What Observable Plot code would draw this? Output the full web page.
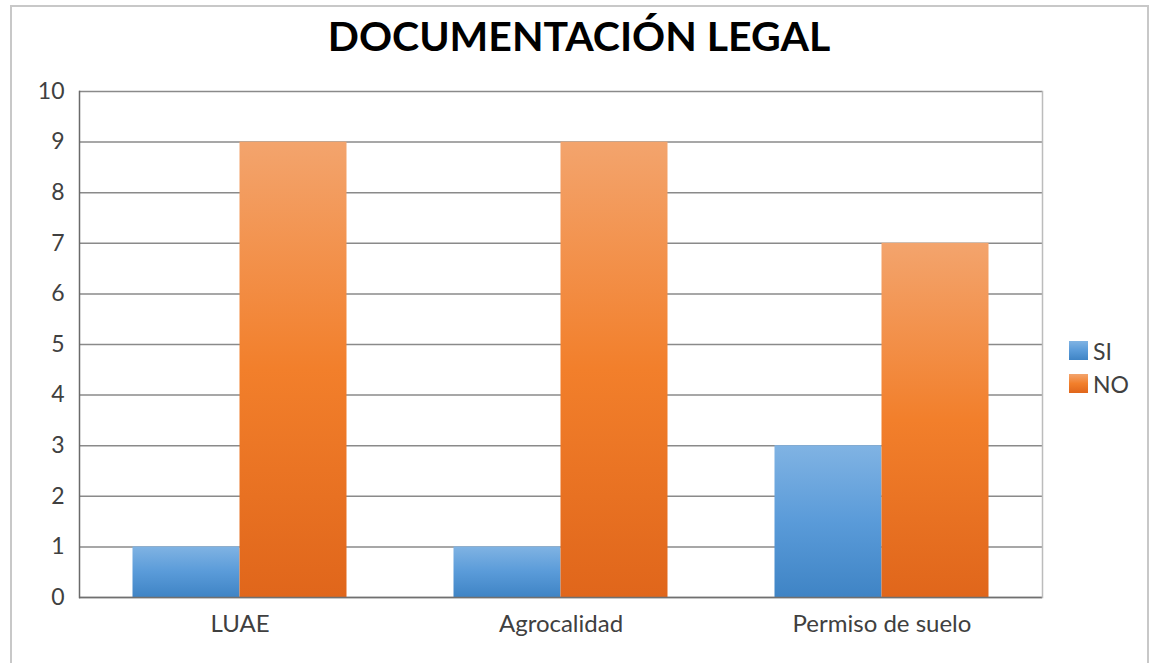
<!DOCTYPE html>
<html><head><meta charset="utf-8">
<script src="https://cdn.jsdelivr.net/npm/d3@7"></script>
<script src="https://cdn.jsdelivr.net/npm/@observablehq/plot@0.6"></script>
<style>
body{margin:0;background:#fff;}
#wrap{position:relative;width:1158px;height:663px;overflow:hidden;font-family:Lato,sans-serif;}
#border{position:absolute;left:10px;top:5px;width:1139px;height:700px;border:2px solid #c8c8c8;box-sizing:border-box;}
#title{position:absolute;left:0;width:1158px;top:15px;line-height:1;text-align:center;font-weight:700;font-size:41px;color:#000;white-space:nowrap;}
#legend{position:absolute;left:1069px;top:334px;font-size:23px;color:#404040;}
.item{display:flex;align-items:center;height:33px;}
.sw{width:19px;height:19px;margin-right:5px;}
#chart{position:absolute;left:0;top:0;}
</style></head>
<body>
<div id="wrap">
  <div id="border"></div>
  <div id="chart"></div>
  <div id="title"></div>
  <div id="legend"></div>
</div>
<script>
const title = "DOCUMENTACIÓN LEGAL";
const categories = ["LUAE", "Agrocalidad", "Permiso de suelo"];
const series = ["SI", "NO"];
const siValues = [1, 1, 3];
const noValues = [9, 9, 7];
const yTicks = [0, 1, 2, 3, 4, 5, 6, 7, 8, 9, 10];
const gradients = {
  SI: ["#80b3e3", "#5a9bd9", "#3f84c5"],
  NO: ["#f3a46d", "#f27f2b", "#e0661b"]
};

const data = categories.flatMap((c, i) => [
  {category: c, series: "SI", value: siValues[i]},
  {category: c, series: "NO", value: noValues[i]}
]);

document.getElementById("title").textContent = title;

const chart = Plot.plot({
  width: 1158, height: 663,
  marginLeft: 78, marginRight: 115, marginTop: 91, marginBottom: 66,
  style: {fontFamily: "Lato, sans-serif", fontSize: "24px", color: "#404040", background: "transparent", overflow: "visible"},
  fx: {domain: categories, padding: 0, axis: null, label: null},
  x: {domain: series, paddingInner: 0, paddingOuter: 0.5, axis: null, round: false, label: null},
  y: {domain: [0, 10], axis: null, label: null},
  color: {domain: series, range: series.map(s => `url(#g${s})`)},
  marks: [
    Plot.ruleY(yTicks, {y: d => d, stroke: "#8a8a8a", strokeWidth: 1.5}),
    Plot.barY(data, {fx: "category", x: "series", y: "value", fill: "series"}),
    Plot.ruleY([0], {stroke: "#707070", strokeWidth: 1.5}),
    Plot.frame({anchor: "left", facetAnchor: "left", stroke: "#6a6a6a", strokeWidth: 1.5}),
    Plot.frame({anchor: "right", facetAnchor: "right", stroke: "#bcbcbc", strokeWidth: 1.5}),
    Plot.axisY(yTicks, {anchor: "left", tickSize: 0, tickPadding: 15, fontSize: 23, fill: "#404040", label: null, tickFormat: d => String(d)}),
    Plot.axisFx({anchor: "bottom", tickSize: 0, tickPadding: 17, fontSize: 24, fill: "#404040", label: null})
  ]
});
document.getElementById("chart").appendChild(chart);

const svgNS = "http://www.w3.org/2000/svg";
const defs = document.createElementNS(svgNS, "defs");
for (const s of series) {
  const g = document.createElementNS(svgNS, "linearGradient");
  g.setAttribute("id", "g" + s);
  g.setAttribute("x1", "0"); g.setAttribute("y1", "0");
  g.setAttribute("x2", "0"); g.setAttribute("y2", "1");
  gradients[s].forEach((c, i) => {
    const st = document.createElementNS(svgNS, "stop");
    st.setAttribute("offset", (i * 50) + "%");
    st.setAttribute("stop-color", c);
    g.appendChild(st);
  });
  defs.appendChild(g);
}
chart.insertBefore(defs, chart.firstChild);

const legend = document.getElementById("legend");
for (const s of series) {
  const item = document.createElement("div");
  item.className = "item";
  const sw = document.createElement("div");
  sw.className = "sw";
  sw.style.background = `linear-gradient(${gradients[s].join(",")})`;
  const t = document.createElement("span");
  t.textContent = s;
  item.appendChild(sw); item.appendChild(t);
  legend.appendChild(item);
}
</script>
</body></html>
